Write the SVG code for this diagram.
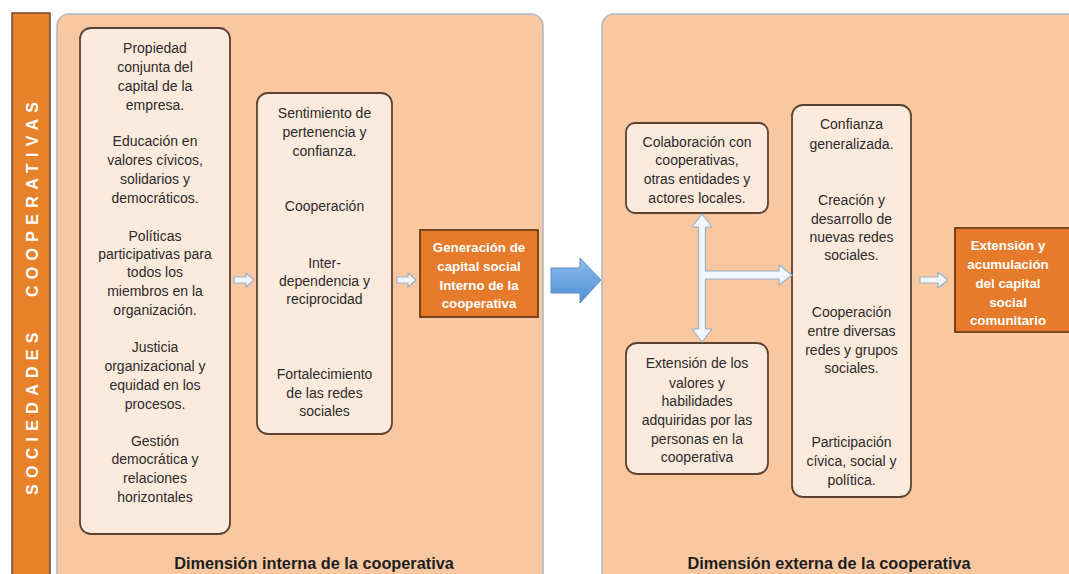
<svg xmlns="http://www.w3.org/2000/svg" width="1069" height="574" viewBox="0 0 1069 574">
<defs>
<linearGradient id="blueGrad" x1="0" y1="0" x2="0" y2="1">
<stop offset="0" stop-color="#8DBDEB"/>
<stop offset="1" stop-color="#4F8FD3"/>
</linearGradient>
<style>
.panel{fill:#F9C8A1;stroke:#A8B6C6;stroke-width:1.5}
.box{fill:#FCEADC;stroke:#5A4232;stroke-width:1.8}
.obox{fill:#E67B2B;stroke:#6E3A14;stroke-width:1.8}
.t{font-family:"Liberation Sans",Arial,sans-serif;font-size:14px;fill:#2b2b2b;text-anchor:middle}
.w{font-family:"Liberation Sans",Arial,sans-serif;font-size:13.3px;font-weight:bold;fill:#ffffff;text-anchor:middle}
.lbl{font-family:"Liberation Sans",Arial,sans-serif;font-size:16.3px;font-weight:bold;fill:#1e1e1e;text-anchor:middle}
.vt{font-family:"Liberation Sans",Arial,sans-serif;font-size:16px;font-weight:bold;fill:#ffffff;letter-spacing:6.3px}
.warr{fill:#F2F7FD;stroke:#9CB0C8;stroke-width:1.2;stroke-linejoin:round}
</style>
</defs>
<rect width="1069" height="574" fill="#ffffff"/>

<g id="side-bar">
<rect x="12" y="13" width="38" height="575" fill="#E8822A" stroke="#6B4A2E" stroke-width="1.5"/>
<text class="vt" transform="translate(38,495) rotate(-90)">SOCIEDADES</text>
<text class="vt" transform="translate(38,297) rotate(-90)">COOPERATIVAS</text>
</g>

<g id="panel-interna">
<rect class="panel" x="57" y="14" width="486" height="580" rx="12"/>
<text class="lbl" x="314" y="569">Dimensión interna de la cooperativa</text>
</g>

<g id="panel-externa">
<rect class="panel" x="602" y="14" width="490" height="580" rx="12"/>
<text class="lbl" x="829" y="569">Dimensión externa de la cooperativa</text>
</g>

<g id="box-practicas">
<rect class="box" x="80" y="28" width="150" height="506" rx="11"/>
<text class="t" x="155" y="53">Propiedad</text>
<text class="t" x="155" y="72">conjunta del</text>
<text class="t" x="155" y="91">capital de la</text>
<text class="t" x="155" y="110">empresa.</text>
<text class="t" x="155" y="146">Educación en</text>
<text class="t" x="155" y="165">valores cívicos,</text>
<text class="t" x="155" y="184">solidarios y</text>
<text class="t" x="155" y="203">democráticos.</text>
<text class="t" x="155" y="241">Políticas</text>
<text class="t" x="155" y="259">participativas para</text>
<text class="t" x="155" y="277">todos los</text>
<text class="t" x="155" y="296">miembros en la</text>
<text class="t" x="155" y="315">organización.</text>
<text class="t" x="155" y="352">Justicia</text>
<text class="t" x="155" y="371">organizacional y</text>
<text class="t" x="155" y="390">equidad en los</text>
<text class="t" x="155" y="409">procesos.</text>
<text class="t" x="155" y="446">Gestión</text>
<text class="t" x="155" y="464">democrática y</text>
<text class="t" x="155" y="483">relaciones</text>
<text class="t" x="155" y="502">horizontales</text>
</g>

<g id="box-resultados-internos">
<rect class="box" x="257" y="93" width="135" height="341" rx="11"/>
<text class="t" x="324.5" y="118">Sentimiento de</text>
<text class="t" x="324.5" y="137">pertenencia y</text>
<text class="t" x="324.5" y="156">confianza.</text>
<text class="t" x="324.5" y="211">Cooperación</text>
<text class="t" x="324.5" y="268">Inter-</text>
<text class="t" x="324.5" y="286">dependencia y</text>
<text class="t" x="324.5" y="304">reciprocidad</text>
<text class="t" x="324.5" y="379">Fortalecimiento</text>
<text class="t" x="324.5" y="398">de las redes</text>
<text class="t" x="324.5" y="416">sociales</text>
</g>

<g id="box-generacion">
<rect class="obox" x="420" y="230" width="118" height="87"/>
<text class="w" x="479" y="252">Generación de</text>
<text class="w" x="479" y="271">capital social</text>
<text class="w" x="479" y="290">Interno de la</text>
<text class="w" x="479" y="308">cooperativa</text>
</g>

<g id="box-colaboracion">
<rect class="box" x="626" y="123" width="142" height="90" rx="9"/>
<text class="t" x="697" y="147">Colaboración con</text>
<text class="t" x="697" y="165">cooperativas,</text>
<text class="t" x="697" y="184">otras entidades y</text>
<text class="t" x="697" y="203">actores locales.</text>
</g>

<g id="box-extension-valores">
<rect class="box" x="626" y="343" width="142" height="131" rx="11"/>
<text class="t" x="697" y="368">Extensión de los</text>
<text class="t" x="697" y="388">valores y</text>
<text class="t" x="697" y="406">habilidades</text>
<text class="t" x="697" y="425">adquiridas por las</text>
<text class="t" x="697" y="444">personas en la</text>
<text class="t" x="697" y="462">cooperativa</text>
</g>

<g id="box-resultados-externos">
<rect class="box" x="792" y="105" width="119" height="392" rx="11"/>
<text class="t" x="851.5" y="129">Confianza</text>
<text class="t" x="851.5" y="149">generalizada.</text>
<text class="t" x="851.5" y="205">Creación y</text>
<text class="t" x="851.5" y="224">desarrollo de</text>
<text class="t" x="851.5" y="242">nuevas redes</text>
<text class="t" x="851.5" y="260">sociales.</text>
<text class="t" x="851.5" y="317">Cooperación</text>
<text class="t" x="851.5" y="336">entre diversas</text>
<text class="t" x="851.5" y="355">redes y grupos</text>
<text class="t" x="851.5" y="373">sociales.</text>
<text class="t" x="851.5" y="447">Participación</text>
<text class="t" x="851.5" y="466">cívica, social y</text>
<text class="t" x="851.5" y="485">política.</text>
</g>

<g id="box-acumulacion">
<rect class="obox" x="955" y="228" width="118" height="104"/>
<text class="w" x="1008" y="250">Extensión y</text>
<text class="w" x="1008" y="269">acumulación</text>
<text class="w" x="1008" y="288">del capital</text>
<text class="w" x="1008" y="307">social</text>
<text class="w" x="1008" y="325">comunitario</text>
</g>

<g id="connectors">
<path class="warr" d="M234,277 H246 V273 L254,280 L246,287 V283 H234 Z"/>
<path class="warr" d="M397,277 H408 V273 L416,280 L408,287 V283 H397 Z"/>
<path class="warr" d="M920,277 H938 V272 L948,280 L938,288 V283 H920 Z"/>
<path d="M551,268 H580 V258 L601,280 L580,303 V293 H551 Z" fill="url(#blueGrad)" stroke="#5B8DC6" stroke-width="1"/>
<path class="warr" d="M698.5,227 H692 L702,214 L712,227 H705.5 V271 H779 V265 L792,275 L779,285 V279 H705.5 V329 H712 L702,342 L692,329 H698.5 Z"/>
</g>
</svg>
